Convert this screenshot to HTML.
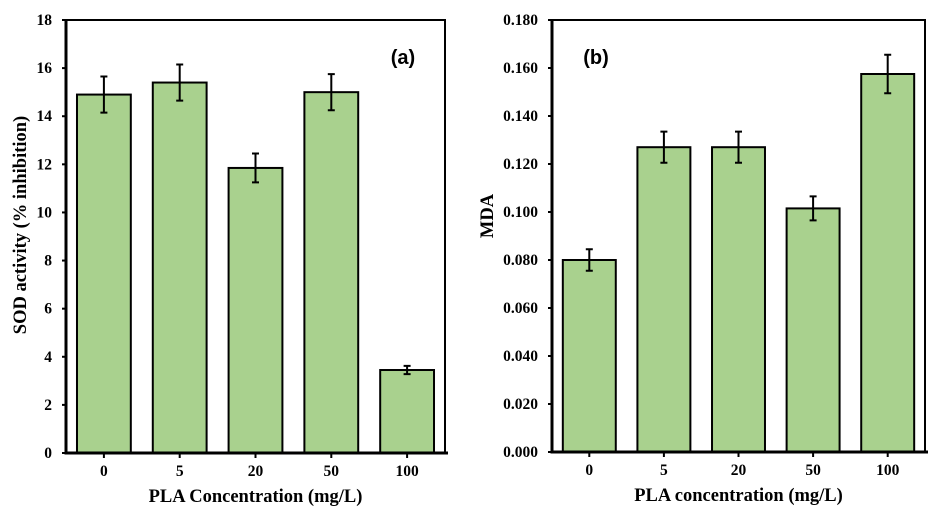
<!DOCTYPE html>
<html><head><meta charset="utf-8"><style>
html,body{margin:0;padding:0;background:#fff;}
svg{display:block;font-family:"Liberation Serif",serif;font-weight:bold;}
</style></head><body>
<svg id="chart" width="939" height="508" viewBox="0 0 939 508" xmlns="http://www.w3.org/2000/svg"></svg>
<script>
const categories = ["0","5","20","50","100"];
const sodValues = [14.9, 15.4, 11.85, 15.0, 3.45];
const sodErrors = [0.75, 0.75, 0.6, 0.75, 0.17];
const sodTicks = [0,2,4,6,8,10,12,14,16,18];
const mdaValues = [0.080, 0.127, 0.127, 0.1015, 0.1575];
const mdaErrors = [0.0045, 0.0065, 0.0065, 0.005, 0.008];
const mdaTicks = [0,0.02,0.04,0.06,0.08,0.1,0.12,0.14,0.16,0.18];

const NS = "http://www.w3.org/2000/svg";
const svg = document.getElementById("chart");
function mk(tag, attrs, parent){
  const e = document.createElementNS(NS, tag);
  for (const k in attrs) e.setAttribute(k, attrs[k]);
  (parent||svg).appendChild(e);
  return e;
}
function panel(cfg){
  const g = mk("g", {});
  
  
  const {x0,x1,y0,y1,max,vals,errs,ticks,fmt} = cfg;
  const band = (x1-x0)/categories.length;
  const xs = i => x0 + band*(i+0.5);
  const ys = v => y1 - (v/max)*(y1-y0);
  vals.forEach((v,i)=>{
    const bw = band*0.71;
    const r = mk("rect",{x:xs(i)-bw/2,y:ys(v),width:bw,height:y1-ys(v),fill:"#a9d18e",stroke:"#000","stroke-width":2},g);
    
    
    const e = errs[i];
    const eb = mk("path",{d:`M${xs(i)},${ys(v+e)}V${ys(v-e)}M${xs(i)-3.5},${ys(v+e)}H${xs(i)+3.5}M${xs(i)-3.5},${ys(v-e)}H${xs(i)+3.5}`,stroke:"#000","stroke-width":2,fill:"none"},g);
    
    
  });
  const fr = mk("rect",{x:x0,y:y0,width:x1-x0,height:y1-y0,fill:"none",stroke:"#000","stroke-width":2},g);
  
  
  const ax = mk("path",{d:`M${x0},${y0}V${y1}H${x1+3}`,stroke:"#000","stroke-width":3,fill:"none"},g);
  
  
  ticks.forEach(t=>{
    mk("line",{x1:x0-4,x2:x0,y1:ys(t),y2:ys(t),stroke:"#000","stroke-width":2},g);
    const tx = mk("text",{x:x0-14,y:ys(t)+5,"text-anchor":"end","font-size":15.5},g);
    tx.textContent = fmt(t);
    
    
  });
  categories.forEach((c,i)=>{
    mk("line",{x1:xs(i),x2:xs(i),y1:y1,y2:y1+5,stroke:"#000","stroke-width":2},g);
    const tx = mk("text",{x:xs(i),y:y1+23,"text-anchor":"middle","font-size":15.5},g);
    tx.textContent = c;
    
    
  });
  const xt = mk("text",{x:(x0+x1)/2,y:y1+49,"text-anchor":"middle","font-size":18.5},g);
  xt.textContent = cfg.xTitle;
  
  
  const yt = mk("text",{x:0,y:0,"text-anchor":"middle","font-size":18.5,transform:`translate(${cfg.ytx},${cfg.yty}) rotate(-90)`},g);
  yt.textContent = cfg.yTitle;
  
  
  const pl = mk("text",{x:cfg.lx,y:64,"text-anchor":"middle","font-size":20,"font-family":"Liberation Sans, sans-serif"},g);
  pl.textContent = cfg.label;
  
  
}
panel({name:"panel-a-sod",x0:66,x1:445,y0:20,y1:453,max:18,vals:sodValues,errs:sodErrors,ticks:sodTicks,fmt:t=>String(t),xTitle:"PLA Concentration (mg/L)",yTitle:"SOD activity (% inhibition)",ytx:26,yty:225,label:"(a)",lx:403});
panel({name:"panel-b-mda",x0:552,x1:925,y0:20,y1:452,max:0.18,vals:mdaValues,errs:mdaErrors,ticks:mdaTicks,fmt:t=>t.toFixed(3),xTitle:"PLA concentration (mg/L)",yTitle:"MDA",ytx:493,yty:216,label:"(b)",lx:596});
</script>
</body></html>
